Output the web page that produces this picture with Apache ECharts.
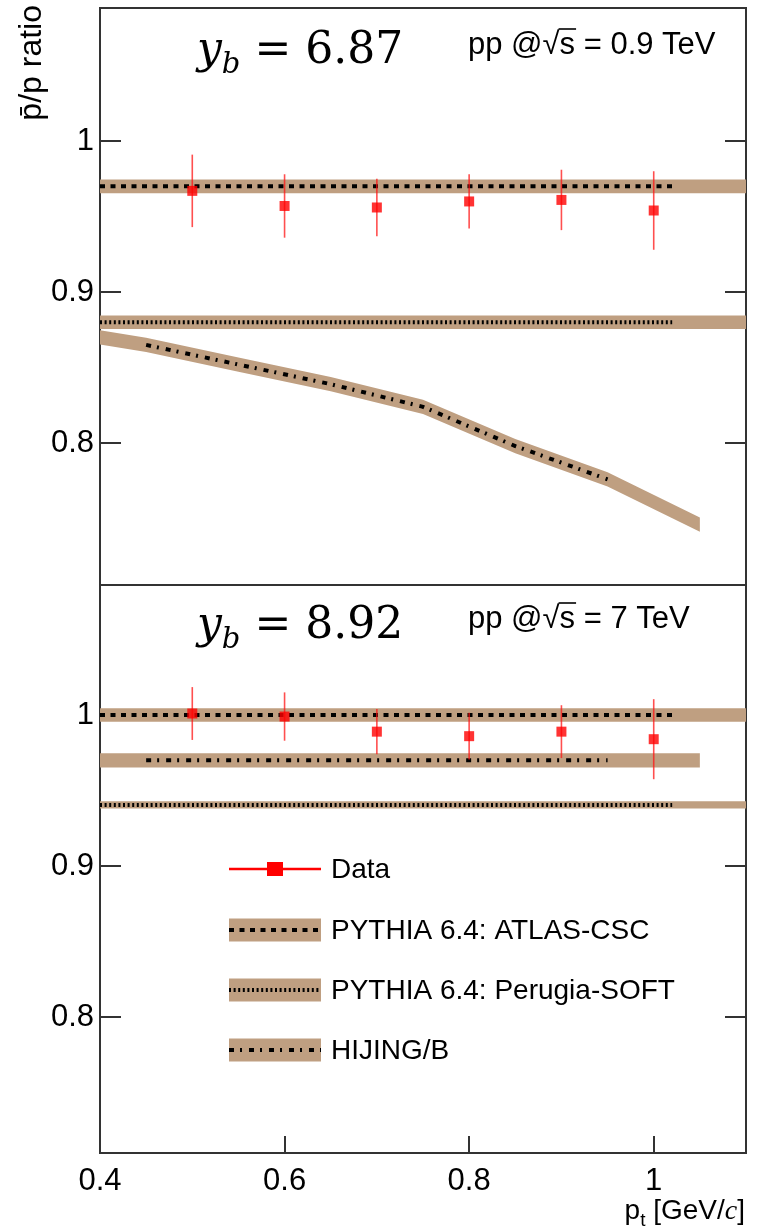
<!DOCTYPE html>
<html>
<head>
<meta charset="utf-8">
<script src="https://cdn.jsdelivr.net/npm/echarts@6/dist/echarts.min.js"></script>
<style>
  html, body { margin: 0; padding: 0; background: #fff; }
  #chart { width: 769px; height: 1230px; }
</style>
</head>
<body>
<div id="chart"></div>
<script>
// ---- measured antiproton/proton ratio vs pt ----
const ptBins = [0.5, 0.6, 0.7, 0.8, 0.9, 1.0];
const ratio09 = [0.967, 0.957, 0.956, 0.960, 0.961, 0.954];
const err09   = [0.024, 0.021, 0.019, 0.018, 0.020, 0.026];
const ratio7  = [1.001, 0.999, 0.989, 0.986, 0.989, 0.984];
const err7    = [0.0175, 0.016, 0.015, 0.0155, 0.0175, 0.0265];

// ---- model curves ----
const flatBandX = [0.4, 1.1];
const flatLineX = [0.4, 1.02];
const atlas09   = [0.970, 0.970];
const perugia09 = [0.880, 0.880];
const atlas7    = [1.000, 1.000];
const perugia7  = [0.9405, 0.9405];

const hijingX    = [0.4, 0.45, 0.55, 0.65, 0.75, 0.85, 0.95, 1.05];
const hijing09   = [0.870, 0.865, 0.852, 0.839, 0.824, 0.798, 0.776, 0.746];
const hijing7    = [0.970, 0.970, 0.970, 0.970, 0.970, 0.970, 0.970, 0.970];
const hijingLine = [0.45, 0.95];

const bandHalf      = [0.0045, 0.0045, 0.0047];   // ATLAS, Perugia, HIJING
const perugia7Half  = 0.0024;

const xTicks = [0.4, 0.6, 0.8, 1.0];
const yTicks = [0.8, 0.9, 1.0];
const legendNames = ['Data', 'PYTHIA 6.4: ATLAS-CSC', 'PYTHIA 6.4: Perugia-SOFT', 'HIJING/B'];

// ---- styles ----
const BAND = '#bf9f81';
const FRAME = '#333';
const SANS = '"Liberation Sans", Arial, sans-serif';
const SERIF = '"DejaVu Serif", serif';
const DASH_ATLAS = [5, 5.5];
const DASH_PERUGIA = [2, 2.6];
const DASH_HIJING = [5, 6, 2, 7];

const chart = echarts.init(document.getElementById('chart'), null, { renderer: 'canvas' });

function bandSeries(g, xs, ys, half) {
  return {
    type: 'custom', xAxisIndex: g, yAxisIndex: g * 2, silent: true, z: 1,
    data: [[xs[0], ys[0]]],
    renderItem: (params, api) => {
      const up = xs.map((x, i) => api.coord([x, ys[i] + half]));
      const dn = xs.map((x, i) => api.coord([x, ys[i] - half])).reverse();
      return { type: 'polygon', shape: { points: up.concat(dn) }, style: { fill: BAND } };
    }
  };
}

function lineSeries(g, xs, ys, dash, width, range) {
  const pts = [];
  xs.forEach((x, i) => { if (!range || (x >= range[0] - 1e-9 && x <= range[1] + 1e-9)) pts.push([x, ys[i]]); });
  return {
    type: 'line', xAxisIndex: g, yAxisIndex: g * 2, silent: true, z: 2,
    symbol: 'none', data: pts,
    lineStyle: { color: '#000', width: width, type: dash, cap: 'butt', join: 'miter' }
  };
}

function errorSeries(g, xs, ys, es) {
  return {
    type: 'custom', xAxisIndex: g, yAxisIndex: g * 2, silent: true, z: 3,
    data: xs.map((x, i) => [x, ys[i], es[i]]),
    renderItem: (params, api) => {
      const x = api.value(0), y = api.value(1), e = api.value(2);
      const a = api.coord([x, y + e]), b = api.coord([x, y - e]);
      return { type: 'line', shape: { x1: a[0], y1: a[1], x2: b[0], y2: b[1] },
               style: { stroke: 'rgba(255,20,20,0.75)', lineWidth: 1.6 } };
    }
  };
}

function pointSeries(g, xs, ys) {
  return {
    type: 'scatter', xAxisIndex: g, yAxisIndex: g * 2, silent: true, z: 4,
    symbol: 'rect', symbolSize: 10, itemStyle: { color: '#ff0000' },
    data: xs.map((x, i) => [x, ys[i]])
  };
}

const fmt = v => String(Math.round(v * 10) / 10);

function xAxisCfg(g, labels) {
  return {
    gridIndex: g, type: 'value', min: 0.4, max: 1.1, interval: 0.2,
    axisLine: { show: labels, lineStyle: { color: FRAME, width: 2 } },
    axisTick: { show: labels, inside: true, length: 17, customValues: xTicks, lineStyle: { color: FRAME, width: 2 } },
    axisLabel: { show: labels, customValues: xTicks, formatter: fmt, fontSize: 31, fontFamily: SANS, color: '#000', margin: 13 },
    splitLine: { show: false }
  };
}
function yAxisCfg(g, min, max, right) {
  return {
    gridIndex: g, type: 'value', min: min, max: max, position: right ? 'right' : 'left',
    axisLine: { show: true, lineStyle: { color: FRAME, width: 2 } },
    axisTick: { show: true, inside: true, length: 21, customValues: yTicks, lineStyle: { color: FRAME, width: 2 } },
    axisLabel: { show: !right, customValues: yTicks, formatter: fmt, fontSize: 31, fontFamily: SANS, color: '#000', margin: 6 },
    splitLine: { show: false }
  };
}

// ---- text helpers ----
const mctx = document.createElement('canvas').getContext('2d');
function fontStr(p) { return (p.style || 'normal') + ' ' + p.size + 'px ' + p.family; }
function measure(p) { mctx.font = fontStr(p); return mctx.measureText(p.t).width; }
// lay out text pieces left-to-right on a common baseline
function textRun(x, baseline, parts, alignRight) {
  const widths = parts.map(measure);
  const total = widths.reduce((a, b) => a + b, 0);
  let cx = alignRight ? x - total : x;
  const els = [];
  parts.forEach((p, i) => {
    els.push({
      type: 'text', x: cx, y: baseline + (p.dy || 0) - 0.31 * p.size, z: 10,
      style: { text: p.t, font: fontStr(p), fill: '#000', align: 'left', verticalAlign: 'middle' }
    });
    p._x = cx; p._w = widths[i];
    cx += widths[i];
  });
  return els;
}

function yLabel(x, baseline, value) {
  return textRun(x, baseline, [
    { t: 'y', size: 44, family: SERIF, style: 'italic' },
    { t: 'b', size: 29, family: SERIF, style: 'italic', dy: 9 },
    { t: ' = ' + value, size: 44, family: SERIF }
  ]);
}

function energyLabel(x, baseline, energy) {
  const parts = [
    { t: 'pp @\u221A', size: 31, family: SANS },
    { t: 's', size: 31, family: SANS },
    { t: ' = ' + energy + ' TeV', size: 31, family: SANS }
  ];
  const els = textRun(x, baseline, parts);
  const s = parts[1];
  els.push({ type: 'line', z: 10, shape: { x1: s._x - 1, y1: baseline - 26, x2: s._x + s._w + 1, y2: baseline - 26 },
             style: { stroke: '#000', lineWidth: 1.6 } });
  return els;
}

// ---- legend ----
const legendX = 229, legendW = 92, legendTextX = 331;
const legendRows = [869, 930, 990, 1050];
const legendDash = [null, DASH_ATLAS, DASH_PERUGIA, DASH_HIJING];
const legendEls = [];
legendRows.forEach((y, i) => {
  if (i === 0) {
    legendEls.push({ type: 'line', z: 10, shape: { x1: legendX, y1: y, x2: legendX + legendW, y2: y },
                     style: { stroke: '#ff0000', lineWidth: 2.5 } });
    legendEls.push({ type: 'rect', z: 11, shape: { x: legendX + legendW / 2 - 8, y: y - 7, width: 16, height: 14 },
                     style: { fill: '#ff0000' } });
  } else {
    legendEls.push({ type: 'rect', z: 10, shape: { x: legendX, y: y - 11.5, width: legendW, height: 23 },
                     style: { fill: BAND } });
    legendEls.push({ type: 'line', z: 11, shape: { x1: legendX, y1: y, x2: legendX + legendW, y2: y },
                     style: { stroke: '#000', lineWidth: 4, lineDash: legendDash[i], lineCap: 'butt' } });
  }
  legendEls.push({ type: 'text', z: 10, x: legendTextX, y: y + 1,
                   style: { text: legendNames[i], font: '28px ' + SANS, fill: '#000', align: 'left', verticalAlign: 'middle' } });
});

const graphics = []
  .concat(yLabel(197, 65, '6.87'))
  .concat(yLabel(197, 640, '8.92'))
  .concat(energyLabel(468, 55, '0.9'))
  .concat(energyLabel(468, 629, '7'))
  .concat(textRun(745, 1220, [
    { t: 'p', size: 28, family: SANS },
    { t: 't', size: 19, family: SANS, dy: 7 },
    { t: ' [GeV/', size: 28, family: SANS },
    { t: 'c', size: 28, family: '"Liberation Serif", serif', style: 'italic' },
    { t: ']', size: 28, family: SANS }
  ], true))
  .concat([{
    type: 'text', x: 32, y: 5, rotation: Math.PI / 2, z: 10,
    style: { text: 'p\u0304/p ratio', font: '32px ' + SANS, fill: '#000', align: 'right', verticalAlign: 'middle' }
  }])
  .concat(legendEls);

const option = {
  animation: false,
  backgroundColor: '#fff',
  grid: [
    { left: 100, top: 8, width: 646, height: 577, show: true, borderColor: FRAME, borderWidth: 2, backgroundColor: 'transparent' },
    { left: 100, top: 585, width: 646, height: 568, show: true, borderColor: FRAME, borderWidth: 2, backgroundColor: 'transparent' }
  ],
  xAxis: [xAxisCfg(0, false), xAxisCfg(1, true)],
  yAxis: [
    yAxisCfg(0, 0.706, 1.0881, false), yAxisCfg(0, 0.706, 1.0881, true),
    yAxisCfg(1, 0.710, 1.0861, false), yAxisCfg(1, 0.710, 1.0861, true)
  ],
  series: [
    // 0.9 TeV panel
    bandSeries(0, flatBandX, atlas09, bandHalf[0]),
    bandSeries(0, flatBandX, perugia09, bandHalf[1]),
    bandSeries(0, hijingX, hijing09, bandHalf[2]),
    lineSeries(0, flatLineX, atlas09, DASH_ATLAS, 4),
    lineSeries(0, flatLineX, perugia09, DASH_PERUGIA, 4),
    lineSeries(0, hijingX, hijing09, DASH_HIJING, 4, hijingLine),
    errorSeries(0, ptBins, ratio09, err09),
    pointSeries(0, ptBins, ratio09),
    // 7 TeV panel
    bandSeries(1, flatBandX, atlas7, bandHalf[0]),
    bandSeries(1, flatBandX, perugia7, perugia7Half),
    bandSeries(1, hijingX, hijing7, bandHalf[2]),
    lineSeries(1, flatLineX, atlas7, DASH_ATLAS, 4),
    lineSeries(1, flatLineX, perugia7, DASH_PERUGIA, 4),
    lineSeries(1, hijingX, hijing7, DASH_HIJING, 4, hijingLine),
    errorSeries(1, ptBins, ratio7, err7),
    pointSeries(1, ptBins, ratio7)
  ],
  graphic: graphics
};
chart.setOption(option);
</script>
</body>
</html>
